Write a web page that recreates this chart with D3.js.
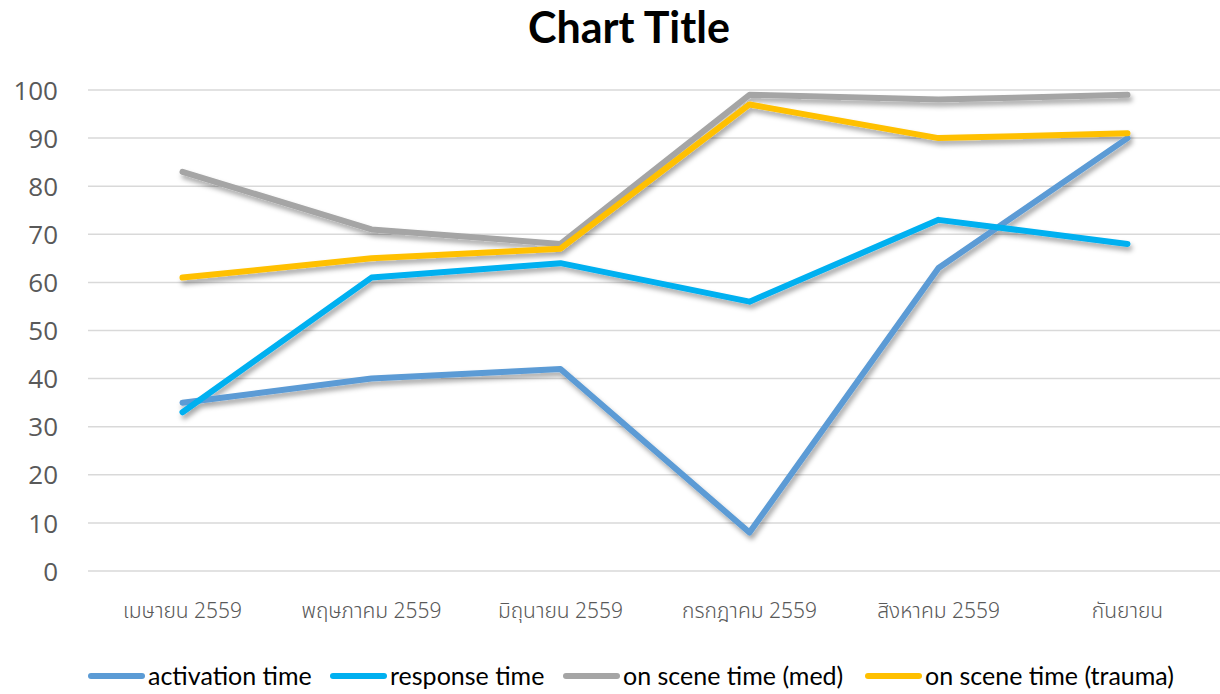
<!DOCTYPE html>
<html><head><meta charset="utf-8">
<script src="https://cdn.jsdelivr.net/npm/d3@7"></script>
<style>body{margin:0;background:#fff}</style>
</head><body>
<svg id="c" width="1220" height="694"></svg>
<script>
const categories = ["เมษายน 2559","พฤษภาคม 2559","มิถุนายน  2559","กรกฎาคม 2559","สิงหาคม 2559","กันยายน"];
const activation = [35,40,42,8,63,90];
const response = [33,61,64,56,73,68];
const sceneMed = [83,71,68,99,98,99];
const sceneTrauma = [61,65,67,97,90,91];
const seriesNames = ["activation time","response time","on scene time (med)","on scene time (trauma)"];
const yTicks = [0,10,20,30,40,50,60,70,80,90,100];

const colors = ["#5B9BD5","#00B0F0","#A5A5A5","#FFC000"];
const series = [activation,response,sceneMed,sceneTrauma];

const svg = d3.select("#c");
const x = d3.scaleBand().domain(categories).range([88,1222]);
const y = d3.scaleLinear().domain([0,100]).range([571,90]);

const defs = svg.append("defs");
const f = defs.append("filter").attr("id","sh").attr("x","-10%").attr("y","-10%").attr("width","120%").attr("height","130%");
f.append("feDropShadow").attr("dx",2).attr("dy",4).attr("stdDeviation",2.5).attr("flood-color","#000").attr("flood-opacity",0.35);

svg.append("text").attr("x",629).attr("y",43).attr("text-anchor","middle")
  .attr("font-family","Lato, 'Open Sans', sans-serif").attr("font-weight","bold").attr("font-size",43).attr("fill","#000").text("Chart Title");

// grid
svg.append("g").selectAll("line").data(yTicks).join("line")
  .attr("x1",88).attr("x2",1222).attr("y1",d=>y(d)).attr("y2",d=>y(d))
  .attr("stroke","#d9d9d9").attr("stroke-width",1.5);

// y labels
const yAxis = svg.append("g").attr("transform","translate(58,0)")
  .call(d3.axisLeft(y).tickValues(yTicks).tickSize(0).tickPadding(0));
yAxis.select(".domain").remove();
yAxis.selectAll("text").attr("font-family","'Open Sans', 'Noto Sans', sans-serif").attr("font-size",26).attr("fill","#595959").attr("dy","0.35em");

// x labels
const xAxis = svg.append("g").attr("transform","translate(0,601)")
  .call(d3.axisBottom(x).tickSize(0).tickPadding(0));
xAxis.select(".domain").remove();
xAxis.selectAll("text").attr("font-family","'Noto Sans', 'Noto Sans Thai', 'DejaVu Sans', sans-serif").attr("font-size",21).attr("font-weight",300).attr("fill","#595959").attr("dy","0.8em");

const line = d3.line().x((d,i)=>x(categories[i])+x.bandwidth()/2).y(d=>y(d));
svg.append("g").attr("filter","url(#sh)").selectAll("path").data(series).join("path")
  .attr("d",d=>line(d)).attr("fill","none").attr("stroke",(d,i)=>colors[i])
  .attr("stroke-width",6).attr("stroke-linecap","round").attr("stroke-linejoin","round");

// legend
const legX = [88,330,563,865];
const lg = svg.append("g").selectAll("g").data(seriesNames).join("g")
  .attr("transform",(d,i)=>`translate(${legX[i]},676)`);
lg.append("line").attr("x1",3).attr("x2",54).attr("stroke",(d,i)=>colors[i]).attr("stroke-width",6).attr("stroke-linecap","round");
lg.append("text").attr("x",60).attr("dy","0.35em").attr("font-family","Lato, 'Open Sans', sans-serif").attr("font-size",25).attr("fill","#000").text(d=>d);
</script>
</body></html>
